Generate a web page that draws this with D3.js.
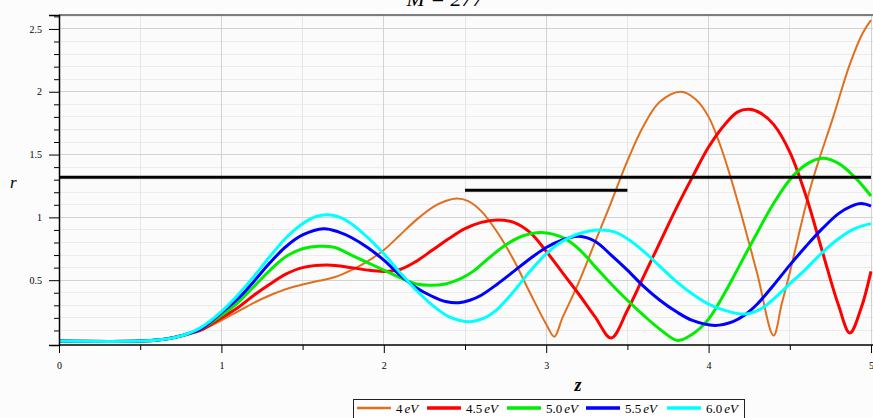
<!DOCTYPE html>
<html>
<head>
<meta charset="utf-8">
<script src="https://cdn.jsdelivr.net/npm/d3@7"></script>
<style>
  body { margin: 0; background: #fcfcfc; }
  svg { display: block; }
  .tick text { font-family: "Liberation Serif", "DejaVu Serif", serif; }
</style>
</head>
<body>
<div id="chart"></div>
<script>
// frame size and plot box
const FRAME_WIDTH = 873;
const FRAME_HEIGHT = 418;
const PLOT = {left: 59, right: 871, top: 15, bottom: 345};

// ticks
const Z_TICKS = [0, 1, 2, 3, 4, 5];
const Z_MINOR = [0.5, 1.5, 2.5, 3.5, 4.5];
const R_TICKS = [0.5, 1, 1.5, 2, 2.5];
const R_MINOR = d3.range(1, 27).map(i => i / 10).filter(v => Math.round(v * 10) % 5 != 0);

// legend
const LABELS = ["4", "4.5", "5.0", "5.5", "6.0"];
const COLORS = ["#e0701e", "#ff0000", "#00ee00", "#0000ff", "#00ffff"];
const WIDTHS = [2, 3, 3, 3, 3];

// data: [z, r] pairs per series
const S_40 = [[0,0.015],[0.5,0.015],[0.65,0.03],[0.76,0.06],[0.87,0.10],[1.0,0.18],[1.1,0.25],[1.2,0.32],
  [1.3,0.38],[1.4,0.43],[1.5,0.465],[1.6,0.495],[1.7,0.525],[1.8,0.58],[1.9,0.65],[2.0,0.74],[2.1,0.86],
  [2.2,0.98],[2.3,1.08],[2.38,1.13],[2.45,1.15],[2.52,1.13],[2.6,1.05],[2.7,0.88],[2.8,0.66],[2.9,0.40],
  [3.0,0.15],[3.05,0.05],[3.1,0.20],[3.2,0.48],[3.3,0.80],[3.4,1.12],[3.5,1.45],[3.6,1.73],[3.7,1.92],
  [3.83,2.0],[3.92,1.94],[4.0,1.80],[4.07,1.58],[4.14,1.30],[4.2,1.03],[4.3,0.55],[4.4,0.06],
  [4.45,0.31],[4.5,0.56],[4.63,1.25],[4.77,1.81],[4.87,2.22],[4.95,2.47],[5.0,2.57]];
const S_45 = [[0,0.015],[0.5,0.015],[0.65,0.03],[0.76,0.06],[0.87,0.10],[1.0,0.20],[1.1,0.28],[1.2,0.38],
  [1.3,0.47],[1.4,0.55],[1.5,0.60],[1.65,0.62],[1.8,0.60],[1.9,0.58],[2.0,0.57],[2.1,0.585],
  [2.2,0.65],[2.3,0.74],[2.4,0.83],[2.5,0.91],[2.6,0.96],[2.7,0.98],[2.8,0.96],[2.9,0.88],[3.0,0.73],
  [3.1,0.56],[3.2,0.39],[3.3,0.21],[3.4,0.04],[3.5,0.26],[3.6,0.53],[3.7,0.80],[3.8,1.07],[3.9,1.32],
  [4.0,1.56],[4.1,1.74],[4.18,1.84],[4.25,1.86],[4.32,1.83],[4.4,1.74],[4.5,1.52],[4.6,1.17],[4.7,0.73],
  [4.8,0.30],[4.87,0.08],[4.94,0.28],[5.0,0.57]];
const S_50 = [[0,0.015],[0.5,0.015],[0.65,0.03],[0.76,0.06],[0.87,0.11],[1.0,0.22],[1.1,0.32],[1.2,0.45],
  [1.3,0.58],[1.4,0.69],[1.5,0.75],[1.6,0.77],[1.7,0.76],[1.8,0.70],[1.9,0.64],[2.0,0.58],[2.1,0.52],
  [2.2,0.47],[2.28,0.46],[2.38,0.47],[2.47,0.51],[2.55,0.57],[2.65,0.68],[2.75,0.78],[2.85,0.85],
  [2.97,0.88],[3.1,0.84],[3.2,0.75],[3.3,0.61],[3.4,0.47],[3.5,0.34],[3.6,0.22],[3.7,0.11],
  [3.81,0.02],[3.9,0.07],[4.0,0.19],[4.1,0.40],[4.2,0.64],[4.3,0.88],[4.4,1.11],[4.5,1.30],
  [4.6,1.42],[4.7,1.47],[4.8,1.43],[4.9,1.32],[5.0,1.17]];
const S_55 = [[0,0.015],[0.5,0.015],[0.65,0.03],[0.76,0.06],[0.87,0.11],[1.0,0.24],[1.1,0.35],[1.2,0.49],
  [1.3,0.64],[1.4,0.77],[1.5,0.86],[1.63,0.91],[1.72,0.885],[1.8,0.84],[1.9,0.76],[2.0,0.66],
  [2.1,0.54],[2.2,0.44],[2.3,0.37],[2.38,0.33],[2.46,0.32],[2.53,0.34],[2.6,0.38],[2.7,0.47],[2.8,0.57],
  [2.9,0.67],[3.0,0.76],[3.1,0.82],[3.2,0.85],[3.3,0.81],[3.4,0.70],[3.5,0.58],[3.6,0.45],
  [3.7,0.34],[3.8,0.25],[3.9,0.18],[4.04,0.14],[4.15,0.17],[4.22,0.22],[4.3,0.31],[4.4,0.46],
  [4.5,0.62],[4.6,0.77],[4.7,0.91],[4.8,1.03],[4.88,1.09],[4.94,1.11],[5.0,1.09]];
const S_60 = [[0,0.015],[0.5,0.015],[0.65,0.03],[0.76,0.06],[0.87,0.12],[1.0,0.25],[1.1,0.38],[1.2,0.53],
  [1.3,0.69],[1.4,0.84],[1.5,0.95],[1.58,1.005],[1.65,1.02],[1.72,1.005],[1.8,0.95],[1.9,0.84],[2.0,0.71],
  [2.1,0.56],[2.2,0.42],[2.3,0.30],[2.4,0.21],[2.52,0.17],[2.62,0.20],[2.7,0.27],[2.8,0.41],
  [2.9,0.57],[3.0,0.71],[3.1,0.81],[3.2,0.87],[3.33,0.90],[3.42,0.885],[3.5,0.83],[3.6,0.73],
  [3.7,0.61],[3.8,0.49],[3.9,0.39],[4.0,0.31],[4.1,0.26],[4.22,0.23],[4.32,0.27],[4.4,0.35],
  [4.5,0.47],[4.6,0.59],[4.7,0.72],[4.8,0.83],[4.9,0.91],[5.0,0.95]];
const SERIES = [S_40, S_45, S_50, S_55, S_60];

// the two black reference lines
const LEVEL_LONG = [[0, 1.32], [5, 1.32]];
const LEVEL_SHORT = [[2.5, 1.215], [3.5, 1.215]];

const FRAME = d3.select("#chart")
  .append("svg")
    .attr("width", FRAME_WIDTH)
    .attr("height", FRAME_HEIGHT);

const X_SCALE = d3.scaleLinear().domain([0, 5]).range([PLOT.left, PLOT.right]);
const Y_SCALE = d3.scaleLinear().domain([-0.016, 2.611]).range([PLOT.bottom, PLOT.top]);

// plot background
FRAME.append("rect")
  .attr("x", PLOT.left).attr("y", PLOT.top)
  .attr("width", FRAME_WIDTH - PLOT.left).attr("height", PLOT.bottom - PLOT.top)
  .attr("fill", "#fbfbfb");

// grid lines, minor first then major
const grid = FRAME.append("g").attr("shape-rendering", "crispEdges");
grid.selectAll(".hminor").data(R_MINOR).enter().append("line")
  .attr("x1", PLOT.left).attr("x2", FRAME_WIDTH)
  .attr("y1", d => Y_SCALE(d)).attr("y2", d => Y_SCALE(d))
  .attr("stroke", "#ececec");
grid.selectAll(".vminor").data(Z_MINOR).enter().append("line")
  .attr("x1", d => X_SCALE(d)).attr("x2", d => X_SCALE(d))
  .attr("y1", PLOT.top).attr("y2", PLOT.bottom)
  .attr("stroke", "#e6e6e6");
grid.selectAll(".hmajor").data(R_TICKS).enter().append("line")
  .attr("x1", PLOT.left).attr("x2", FRAME_WIDTH)
  .attr("y1", d => Y_SCALE(d)).attr("y2", d => Y_SCALE(d))
  .attr("stroke", "#d2d2d2");
grid.selectAll(".vmajor").data(Z_TICKS.slice(1)).enter().append("line")
  .attr("x1", d => X_SCALE(d)).attr("x2", d => X_SCALE(d))
  .attr("y1", PLOT.top).attr("y2", PLOT.bottom)
  .attr("stroke", "#d2d2d2");

// top border
FRAME.append("line")
  .attr("x1", PLOT.left).attr("x2", FRAME_WIDTH)
  .attr("y1", PLOT.top).attr("y2", PLOT.top)
  .attr("stroke", "#555").attr("stroke-width", 1.5);

// curves
const line = d3.line()
  .x(d => X_SCALE(d[0]))
  .y(d => Y_SCALE(d[1]))
  .curve(d3.curveCatmullRom.alpha(0.5));

FRAME.append("g").selectAll("path")
  .data(SERIES)
  .enter()
  .append("path")
    .attr("d", d => line(d))
    .attr("fill", "none")
    .attr("stroke", (d, i) => COLORS[i])
    .attr("stroke-width", (d, i) => WIDTHS[i]);

// black level lines
FRAME.append("g").selectAll("path")
  .data([LEVEL_LONG, LEVEL_SHORT])
  .enter()
  .append("path")
    .attr("d", d => d3.line().x(p => X_SCALE(p[0])).y(p => Y_SCALE(p[1]))(d))
    .attr("stroke", "#000")
    .attr("stroke-width", 3);

// y axis, major then minor ticks
FRAME.append("g")
  .attr("transform", "translate(" + PLOT.left + ",0)")
  .call(d3.axisLeft(Y_SCALE).tickValues(R_TICKS).tickSize(10).tickPadding(7)
          .tickFormat(d3.format("~g")))
  .attr("font-size", "10px")
  .call(g => g.select(".domain").attr("stroke-width", 1.5));
FRAME.append("g")
  .attr("transform", "translate(" + PLOT.left + ",0)")
  .call(d3.axisLeft(Y_SCALE).tickValues(R_MINOR).tickSize(5).tickFormat(""))
  .call(g => g.select(".domain").remove());

// x axis, major then minor ticks
FRAME.append("g")
  .attr("transform", "translate(0," + PLOT.bottom + ")")
  .call(d3.axisBottom(X_SCALE).tickValues(Z_TICKS).tickSize(8).tickPadding(9).tickSizeOuter(0)
          .tickFormat(d3.format("~g")))
  .attr("font-size", "10px")
  .call(g => g.select(".domain").attr("stroke-width", 1.5)
               .attr("d", "M" + PLOT.left + ",0H" + FRAME_WIDTH));
FRAME.append("g")
  .attr("transform", "translate(0," + PLOT.bottom + ")")
  .call(d3.axisBottom(X_SCALE).tickValues(Z_MINOR).tickSize(5).tickFormat(""))
  .call(g => g.select(".domain").remove());

// axis titles and clipped heading
FRAME.append("text")
  .attr("x", 10).attr("y", 188)
  .style("font-family", "Liberation Serif, serif")
  .style("font-style", "italic").style("font-size", "17px")
  .text("r");
FRAME.append("text")
  .attr("x", 578).attr("y", 391)
  .attr("text-anchor", "middle")
  .style("font-family", "Liberation Serif, serif")
  .style("font-style", "italic").style("font-weight", "bold").style("font-size", "18px")
  .text("z");
FRAME.append("text")
  .attr("x", 445).attr("y", 6)
  .attr("text-anchor", "middle")
  .style("font-family", "Liberation Serif, serif")
  .style("font-style", "italic").style("font-size", "22px")
  .text("M = 277");

// legend box
const LEG_X = [357, 427, 507, 586, 667];
const legend = FRAME.append("g");
legend.append("rect")
  .attr("x", 353.5).attr("y", 399.5)
  .attr("width", 391).attr("height", 30)
  .attr("fill", "#fff").attr("stroke", "#222");
LABELS.forEach((lab, i) => {
  legend.append("line")
    .attr("x1", LEG_X[i]).attr("x2", LEG_X[i] + 34)
    .attr("y1", 408).attr("y2", 408)
    .attr("stroke", COLORS[i]).attr("stroke-width", WIDTHS[i] + 0.5);
  const t = legend.append("text")
    .attr("x", LEG_X[i] + 39).attr("y", 413)
    .style("font-family", "Liberation Serif, serif").style("font-size", "13px");
  t.append("tspan").text(lab);
  t.append("tspan").attr("dx", 2).style("font-style", "italic").text("eV");
});
</script>
</body>
</html>
